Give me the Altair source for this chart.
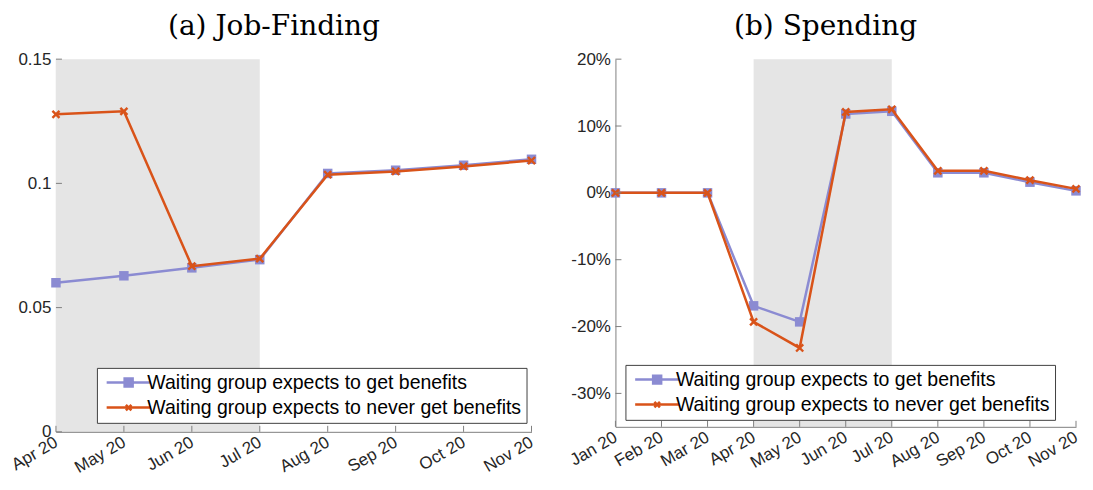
import altair as alt
import pandas as pd

S1 = "Waiting group expects to get benefits"
S2 = "Waiting group expects to never get benefits"
BLUE = "#8b8bd2"
ORANGE = "#d95319"
SHADE = "#e5e5e5"
AXIS = "#7f7f7f"
TXT = "#262626"

# ---- data ----
months_a = ["Apr 20", "May 20", "Jun 20", "Jul 20", "Aug 20", "Sep 20", "Oct 20", "Nov 20"]
jf_get = [0.0600, 0.0628, 0.0660, 0.0693, 0.1040, 0.1053, 0.1073, 0.1097]
jf_never = [0.1278, 0.1290, 0.0667, 0.0697, 0.1035, 0.1048, 0.1068, 0.1092]
ticks_a = [0, 0.05, 0.1, 0.15]

months_b = ["Jan 20", "Feb 20", "Mar 20", "Apr 20", "May 20", "Jun 20",
            "Jul 20", "Aug 20", "Sep 20", "Oct 20", "Nov 20"]
sp_get = [0.0, 0.0, 0.0, -16.9, -19.3, 11.8, 12.2, 3.0, 3.0, 1.6, 0.3]
sp_never = [0.0, 0.0, 0.0, -19.3, -23.2, 12.1, 12.5, 3.3, 3.3, 1.9, 0.6]
ticks_b = [-30, -20, -10, 0, 10, 20]

shade_start = ["Apr 20"]
shade_end = ["Jul 20"]

P_SQ = "M-1,-1H1V1H-1Z"
P_X = "M-1,-1L1,1M-1,1L1,-1"
L_SQ = "M-4.4,0H4.4M-0.8,-0.8H0.8V0.8H-0.8ZM-0.4,-0.4H0.4V0.4H-0.4Z"
L_X = "M-4.4,0H4.4M-0.55,-0.55L0.55,0.55M-0.55,0.55L0.55,-0.55"


def make_legend(lx, ly):
    return alt.Legend(
        title=None, orient="none", legendX=lx, legendY=ly,
        fillColor="white", strokeColor="#404040",
        padding=5, labelFontSize=19.5, labelFont="Liberation Sans", labelColor="#000000",
        symbolSize=100, symbolOffset=17, labelOffset=9, rowPadding=4,
        symbolStrokeWidth=2.5, symbolOpacity=1, labelLimit=600,
    )


def panel(months, get_vals, never_vals, ticks, ydomain, W, H, title, label_expr, lx, ly, extent):
    df = pd.DataFrame({
        "month": months * 2,
        "value": list(get_vals) + list(never_vals),
        "series": [S1] * len(months) + [S2] * len(months),
    })
    shade = pd.DataFrame({"start": shade_start, "end": shade_end})
    xt = pd.DataFrame({"month": months})
    yt = pd.DataFrame({"v": ticks})

    xscale = alt.Scale(type="point", domain=months, padding=0)
    yscale = alt.Scale(domain=ydomain, nice=False, zero=False)
    leg = make_legend(lx, ly)
    cscale = alt.Scale(domain=[S1, S2], range=[BLUE, ORANGE])
    lscale = alt.Scale(domain=[S1, S2], range=[L_SQ, L_X])

    xenc = alt.X("month:O", scale=xscale, sort=months, title=None,
                 axis=alt.Axis(labelAngle=-30, labelAlign="right", labelBaseline="middle",
                               labelPadding=9, ticks=False, domainColor=AXIS,
                               labelFontSize=17, labelFont="Liberation Sans", labelColor=TXT))
    yenc = alt.Y("value:Q", scale=yscale, title=None,
                 axis=alt.Axis(values=ticks, labelExpr=label_expr, grid=False, ticks=False,
                               domainColor=AXIS, labelFontSize=17, labelFont="Liberation Sans",
                               labelColor=TXT, labelPadding=5, minExtent=extent, maxExtent=extent))

    rect = alt.Chart(shade).mark_rect(color=SHADE).encode(
        x=alt.X("start:O", scale=xscale, sort=months), x2="end:O")

    base = alt.Chart(df)
    layers = [rect]
    for s, shp, filled, sw, sz in [(S1, P_SQ, True, 1, 90), (S2, P_X, False, 2.4, 50)]:
        sub = base.transform_filter(alt.datum.series == s)
        line = sub.mark_line(strokeWidth=2.5).encode(
            x=xenc, y=yenc, color=alt.Color("series:N", scale=cscale, legend=leg))
        pts = sub.mark_point(shape=shp, filled=filled, size=sz, strokeWidth=sw, opacity=1).encode(
            x=xenc, y=yenc, color=alt.Color("series:N", scale=cscale, legend=leg))
        layers += [line, pts]

    # legend-only layer (no data drawn)
    legl = base.transform_filter("false").mark_point(filled=False, strokeWidth=2.5, opacity=1).encode(
        x=xenc, y=yenc,
        color=alt.Color("series:N", scale=cscale, legend=leg),
        shape=alt.Shape("series:N", scale=lscale, legend=leg))
    layers.append(legl)

    xtick = alt.Chart(xt).mark_rule(color=AXIS, strokeWidth=1).encode(
        x=alt.X("month:O", scale=xscale, sort=months), y=alt.value(H), y2=alt.value(H - 6))
    ytick = alt.Chart(yt).mark_rule(color=AXIS, strokeWidth=1).encode(
        y=alt.Y("v:Q", scale=yscale), x=alt.value(0), x2=alt.value(6))
    layers += [xtick, ytick]

    return alt.layer(*layers).properties(
        width=W, height=H,
        title=alt.TitleParams(title, font="DejaVu Serif", fontSize=28, fontWeight="normal",
                              color="#000000", anchor="middle", frame="bounds", offset=9),
    )


left = panel(months_a, jf_get, jf_never, ticks_a, [0, 0.15], 476, 373,
             "(a) Job-Finding", "'' + datum.value", 41, 309, 42)
right = panel(months_b, sp_get, sp_never, ticks_b, [-35, 20], 461, 368,
              "(b) Spending", "datum.value + '%'", 10, 306, 45)

chart = alt.hconcat(left, right, spacing=26).resolve_scale(
    x="independent", y="independent", color="independent", shape="independent"
).resolve_legend(color="independent", shape="independent").properties(
    padding={"top": 5, "left": 0, "right": 0, "bottom": 0}
).configure_view(stroke=None).configure_axis(domainWidth=1)

chart.save("out.html", embed_options={"renderer": "svg", "actions": False})
